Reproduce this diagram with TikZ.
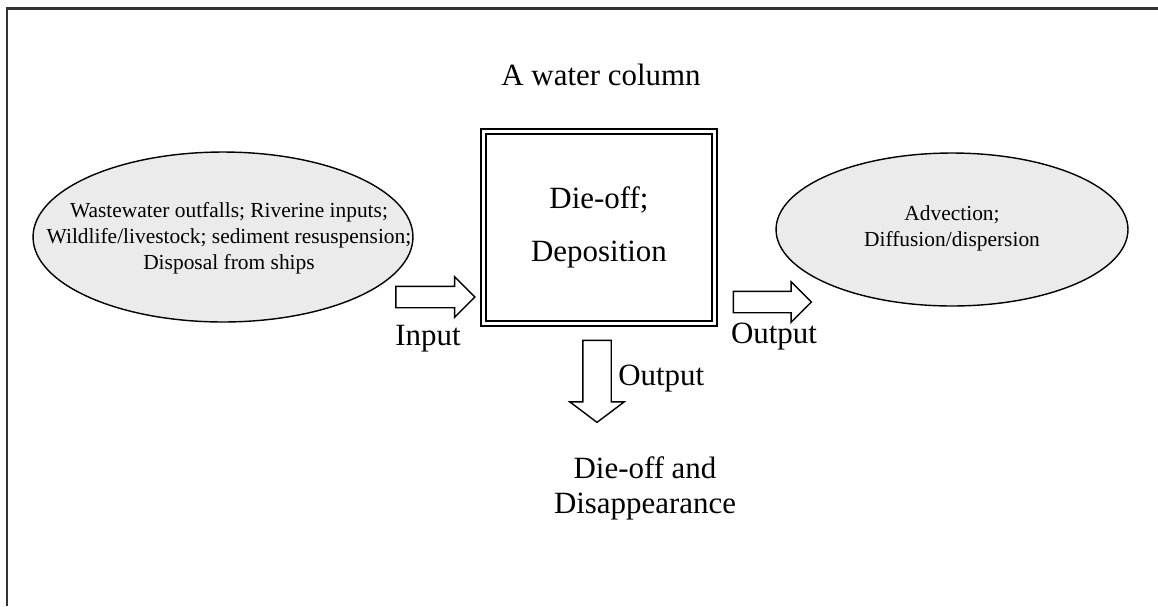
\documentclass[tikz,border=0pt]{standalone}
\usepackage{fontspec}
\setmainfont{Liberation Serif}
\usetikzlibrary{shapes.geometric, shapes.arrows}

\tikzset{
  frameline/.style={line width=1.2pt, draw=black!80},
  sourcebox/.style={ellipse, draw, line width=0.8pt, fill=black!8, inner sep=0pt},
  sourcetext/.style={align=center, inner sep=0pt, font=\fontsize{12.2}{14.7}\selectfont},
  columnbox/.style={rectangle, draw, double, line width=1.1pt, double distance=1.7pt, align=center, font=\fontsize{17.6}{30}\selectfont},
  flowarrow/.style={single arrow, draw, line width=0.8pt, fill=white, inner xsep=0pt, inner ysep=0.2cm, single arrow head extend=0.19cm},
  flowlabel/.style={align=center, inner sep=0pt, font=\fontsize{17.6}{19.8}\selectfont}
}

\begin{document}
\begin{tikzpicture}[x=0.02cm, y=-0.02cm]
    \useasboundingbox (0,0) rectangle (1158,606);
    \draw[frameline] (7,606) -- (7,8.5) -- (1158,8.5); % page frame

    % the water column
    \node[flowlabel, anchor=base] (title) at (601,85) {A water column};
    \node[columnbox, minimum width=4.62cm, minimum height=3.84cm] (column) at (599,227.5) {Die-off;\\Deposition};

    % sources and transport
    \node[sourcebox, minimum width=7.6cm, minimum height=3.4cm] (sources) at (223,237) {};
    \node[sourcetext] (sourcelist) at (229,238) {Wastewater outfalls; Riverine inputs;\\Wildlife/livestock; sediment resuspension;\\Disposal from ships};
    \node[sourcebox, minimum width=7.04cm, minimum height=3.06cm] (transport) at (952,229.5) {};
    \node[sourcetext] (transportlist) at (952,228) {Advection;\\Diffusion/dispersion};

    % block arrows
    \node[flowarrow, minimum height=1.58cm] (inarrow) at (430,297) {};
    \node[flowarrow, minimum height=1.56cm] (outarrow) at (767,302) {};
    \node[flowarrow, minimum height=1.64cm, inner xsep=0.27cm, inner ysep=0pt, single arrow head extend=0.26cm, single arrow tip angle=106, shape border rotate=270] (downarrow) at (597,376) {};

    % labels of the arrows
    \node[flowlabel, anchor=base] (inlabel) at (428,345) {Input};
    \node[flowlabel, anchor=base] (outlabel) at (774,343) {Output};
    \node[flowlabel, anchor=base west] (downlabel) at (618,385) {Output};
    \node[flowlabel] (sink) at (645,488) {Die-off and\\Disappearance};
\end{tikzpicture}
\end{document}
